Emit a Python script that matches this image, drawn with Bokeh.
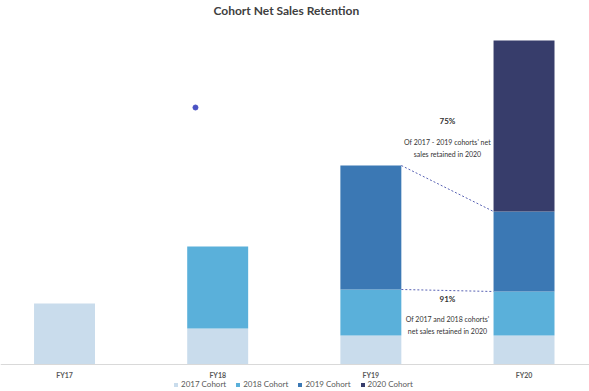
from bokeh.plotting import figure
from bokeh.models import ColumnDataSource, Legend, LegendItem, Label, Range1d, Span
from bokeh.core.properties import value
from bokeh.embed import file_html
from bokeh.resources import INLINE

# ---- data (arbitrary units) ----
years = ["FY17", "FY18", "FY19", "FY20"]
xpos = [0, 1, 2, 3]
cohort_names = ["2017 Cohort", "2018 Cohort", "2019 Cohort", "2020 Cohort"]
c2017 = [61, 36, 29, 29]
c2018 = [0, 82, 46, 44]
c2019 = [0, 0, 124, 80]
c2020 = [0, 0, 0, 171]
colors = ["#c9dcec", "#5ab0da", "#3b78b4", "#373d6b"]
pct_labels = ["75%", "91%"]
note_lines_1 = ["Of 2017 - 2019 cohorts' net", "sales retained in 2020"]
note_lines_2 = ["Of 2017 and 2018 cohorts'", "net sales retained in 2020"]
dot_x = [0.855]
dot_y = [257]

FONT = "Lato"
BAR_W = 0.398

src = ColumnDataSource(dict(x=xpos, c2017=c2017, c2018=c2018, c2019=c2019, c2020=c2020))

p = figure(frame_width=589, frame_height=372, output_backend="svg", toolbar_location=None,
           x_range=Range1d(-0.418, 3.4275), y_range=Range1d(-25, 347),
           x_axis_location=None, y_axis_location=None,
           min_border_left=0, min_border_right=0, min_border_top=0, min_border_bottom=0,
           title="Cohort Net Sales Retention")
p.title.align = "left"
p.title.offset = 213
p.title.text_font = FONT
p.title.text_font_size = "12px"
p.title.text_font_style = "bold"
p.title.text_color = "#404040"
p.title.standoff = 0
p.outline_line_color = None
p.xgrid.visible = False
p.ygrid.visible = False
p.background_fill_color = "white"

# baseline (category axis line)
p.add_layout(Span(location=0, dimension="width", line_color="#d9d9d9", line_width=1))

stack_keys = ["c2017", "c2018", "c2019", "c2020"]
renderers = p.vbar_stack(stack_keys, x="x", width=BAR_W, color=colors, source=src,
                         line_color=None)

# category labels under the bars
p.text(x=xpos, y=[-10] * len(xpos), text=years, text_align="center", text_baseline="middle",
       text_font=value(FONT), text_font_size="7px", text_font_style="bold",
       text_color="#595959")

# connector dashed lines: FY19 right edge -> FY20 left edge
tot19_all = c2017[2] + c2018[2] + c2019[2]
tot20_3 = c2017[3] + c2018[3] + c2019[3]
tot19_2 = c2017[2] + c2018[2]
tot20_2 = c2017[3] + c2018[3]
x0 = xpos[2] + BAR_W / 2
x1 = xpos[3] - BAR_W / 2
p.segment(x0=[x0, x0], y0=[tot19_all, tot19_2], x1=[x1, x1], y1=[tot20_3, tot20_2],
          line_color="#5862b4", line_dash="2 2", line_width=1)

p.scatter(dot_x, dot_y, size=5, color="#4a52c4")

# annotations
xm = (xpos[2] + xpos[3]) / 2
def lab(y, text, bold=False, size="7px"):
    p.add_layout(Label(x=xm, y=y, text=text, text_align="center", text_baseline="middle",
                       text_font=FONT, text_font_size=size,
                       text_font_style="bold" if bold else "normal",
                       text_color="#333333"))
lab(244, pct_labels[0], bold=True, size="8px")
lab(223, note_lines_1[0])
lab(211, note_lines_1[1])
lab(66, pct_labels[1], bold=True, size="8px")
lab(46, note_lines_2[0])
lab(34, note_lines_2[1])

legend = Legend(items=[LegendItem(label=n, renderers=[r]) for n, r in zip(cohort_names, renderers)],
                orientation="horizontal", location=(173, 0),
                label_text_font=FONT, label_text_font_size="8px", label_text_color="#595959",
                glyph_width=5, glyph_height=5, label_height=9, label_standoff=3,
                spacing=9, padding=0, margin=0, border_line_color=None,
                background_fill_alpha=0)
p.add_layout(legend, "center")

open("out.html", "w").write(file_html(p, INLINE))
